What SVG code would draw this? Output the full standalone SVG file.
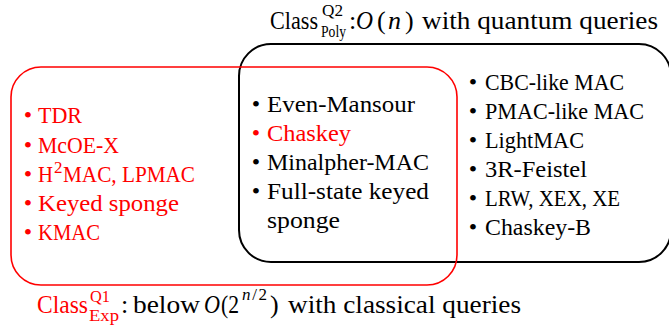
<svg xmlns="http://www.w3.org/2000/svg" width="669" height="327" viewBox="0 0 669 327">
<style>
  text { font-family: "Liberation Serif", "Times New Roman", serif; }
  .t { font-size: 24px; }
  .h { font-size: 26px; }
  .s { font-size: 17px; }
  .red { fill: #ff0000; }
  .blk { fill: #000000; }
  .it { font-style: italic; }
  .b { font-size: 24px; text-anchor: middle; }
  .box { fill: none; }
</style>
<rect width="669" height="327" fill="#ffffff"/>
<g id="class-poly">
  <rect class="box" x="239" y="44" width="432" height="218" rx="32" ry="32" stroke="#000" stroke-width="2"/>
  <text class="h blk" x="270" y="29" textLength="48" lengthAdjust="spacingAndGlyphs">Class</text>
  <text class="s blk" x="322" y="16" textLength="21" lengthAdjust="spacingAndGlyphs">Q2</text>
  <text class="s blk" x="321" y="37" textLength="25" lengthAdjust="spacingAndGlyphs">Poly</text>
  <text class="h blk" x="349" y="29">:</text>
  <text class="h blk it" x="356" y="29" textLength="17" lengthAdjust="spacingAndGlyphs">O</text>
  <text class="h blk" x="377" y="29">(</text>
  <text class="h blk it" x="388" y="29">n</text>
  <text class="h blk" x="405" y="29">)</text>
  <text class="h blk" x="422" y="29" textLength="236" lengthAdjust="spacingAndGlyphs">with quantum queries</text>
  <text class="b blk" x="473" y="89.5">•</text>
  <text class="t blk" x="485" y="89.5" textLength="139" lengthAdjust="spacingAndGlyphs">CBC-like MAC</text>
  <text class="b blk" x="473" y="118.5">•</text>
  <text class="t blk" x="485" y="118.5" textLength="159" lengthAdjust="spacingAndGlyphs">PMAC-like MAC</text>
  <text class="b blk" x="473" y="147.5">•</text>
  <text class="t blk" x="485" y="147.5" textLength="99" lengthAdjust="spacingAndGlyphs">LightMAC</text>
  <text class="b blk" x="473" y="176.5">•</text>
  <text class="t blk" x="485" y="176.5" textLength="102" lengthAdjust="spacingAndGlyphs">3R-Feistel</text>
  <text class="b blk" x="473" y="205.5">•</text>
  <text class="t blk" x="485" y="205.5" textLength="135" lengthAdjust="spacingAndGlyphs">LRW, XEX, XE</text>
  <text class="b blk" x="473" y="234.5">•</text>
  <text class="t blk" x="485" y="234.5" textLength="106" lengthAdjust="spacingAndGlyphs">Chaskey-B</text>
</g>
<g id="class-exp">
  <rect class="box" x="11" y="67" width="446" height="218" rx="30" ry="30" stroke="#ff0000" stroke-width="1.6"/>
  <text class="b red" x="28" y="123">•</text>
  <text class="t red" x="38" y="123" textLength="44" lengthAdjust="spacingAndGlyphs">TDR</text>
  <text class="b red" x="28" y="152.5">•</text>
  <text class="t red" x="38" y="152.5" textLength="81" lengthAdjust="spacingAndGlyphs">McOE-X</text>
  <text class="b red" x="28" y="181.5">•</text>
  <text class="t red" x="38" y="181.5" textLength="15" lengthAdjust="spacingAndGlyphs">H</text>
  <text class="s red" x="54" y="173">2</text>
  <text class="t red" x="63" y="181.5" textLength="132" lengthAdjust="spacingAndGlyphs">MAC, LPMAC</text>
  <text class="b red" x="28" y="210.5">•</text>
  <text class="t red" x="38" y="210.5" textLength="141" lengthAdjust="spacingAndGlyphs">Keyed sponge</text>
  <text class="b red" x="28" y="240">•</text>
  <text class="t red" x="38" y="240" textLength="62" lengthAdjust="spacingAndGlyphs">KMAC</text>
  <text class="h red" x="37" y="313" textLength="51" lengthAdjust="spacingAndGlyphs">Class</text>
  <text class="s red" x="90" y="302" textLength="20" lengthAdjust="spacingAndGlyphs">Q1</text>
  <text class="s red" x="89" y="321" textLength="30" lengthAdjust="spacingAndGlyphs">Exp</text>
  <text class="h blk" x="121" y="313">:</text>
  <text class="h blk" x="133" y="313" textLength="67" lengthAdjust="spacingAndGlyphs">below</text>
  <text class="h blk it" x="204" y="313" textLength="16" lengthAdjust="spacingAndGlyphs">O</text>
  <text class="h blk" x="221" y="313" textLength="18" lengthAdjust="spacingAndGlyphs">(2</text>
  <text class="s blk" x="242" y="300" textLength="25" lengthAdjust="spacing"><tspan class="it">n</tspan>/2</text>
  <text class="h blk" x="270" y="313">)</text>
  <text class="h blk" x="288" y="313" textLength="233" lengthAdjust="spacingAndGlyphs">with classical queries</text>
</g>
<g id="intersection">
  <text class="b blk" x="256" y="111.5">•</text>
  <text class="t blk" x="267" y="111.5" textLength="148" lengthAdjust="spacingAndGlyphs">Even-Mansour</text>
  <text class="b red" x="256" y="140.5">•</text>
  <text class="t red" x="267" y="140.5" textLength="84" lengthAdjust="spacingAndGlyphs">Chaskey</text>
  <text class="b blk" x="256" y="169.5">•</text>
  <text class="t blk" x="267" y="169.5" textLength="162" lengthAdjust="spacingAndGlyphs">Minalpher-MAC</text>
  <text class="b blk" x="256" y="198.5">•</text>
  <text class="t blk" x="267" y="198.5" textLength="162" lengthAdjust="spacingAndGlyphs">Full-state keyed</text>
  <text class="t blk" x="267" y="227.5" textLength="73" lengthAdjust="spacingAndGlyphs">sponge</text>
</g>
<g id="connectors"></g>
</svg>
